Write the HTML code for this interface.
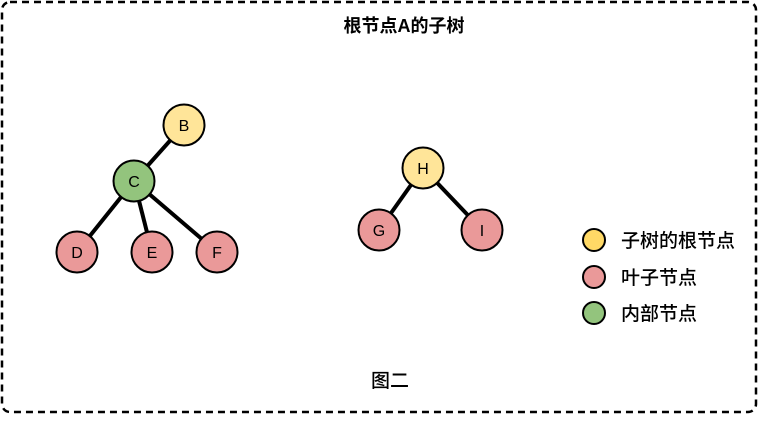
<!DOCTYPE html>
<html><head><meta charset="utf-8"><style>
body{margin:0;background:#fff;width:759px;height:416px;overflow:hidden}
text{font-family:"Liberation Sans","Noto Sans CJK SC",sans-serif}
</style></head><body>
<svg width="759" height="416" xmlns="http://www.w3.org/2000/svg">
<rect x="2" y="2" width="754" height="410" rx="8" fill="none" stroke="#000" stroke-width="2.5" stroke-dasharray="7,5"/>
<text x="404" y="32" font-size="18" font-weight="bold" text-anchor="middle">根节点A的子树</text>
<g stroke="#000" stroke-width="4">
<line x1="184" y1="125" x2="134" y2="181"/>
<line x1="134" y1="181" x2="77" y2="252"/>
<line x1="134" y1="181" x2="152" y2="252"/>
<line x1="134" y1="181" x2="217" y2="252"/>
<line x1="423" y1="168" x2="379" y2="230"/>
<line x1="423" y1="168" x2="482" y2="230"/>
</g>
<g stroke="#000" stroke-width="2">
<circle cx="184" cy="125" r="20.5" fill="#ffe599"/>
<circle cx="134" cy="181" r="20.5" fill="#93c47d"/>
<circle cx="77" cy="252" r="20.5" fill="#ea9999"/>
<circle cx="152" cy="252" r="20.5" fill="#ea9999"/>
<circle cx="217" cy="252" r="20.5" fill="#ea9999"/>
<circle cx="423" cy="168" r="20.5" fill="#ffe599"/>
<circle cx="379" cy="230" r="20.5" fill="#ea9999"/>
<circle cx="482" cy="230" r="20.5" fill="#ea9999"/>
<circle cx="594" cy="240" r="11" fill="#ffd966"/>
<circle cx="594" cy="277" r="11" fill="#ea9999"/>
<circle cx="594" cy="313" r="11" fill="#93c47d"/>
</g>
<g font-size="16" text-anchor="middle">
<text x="184" y="131">B</text><text x="134" y="187">C</text>
<text x="77" y="258">D</text><text x="152" y="258">E</text><text x="217" y="258">F</text>
<text x="423" y="174">H</text><text x="379" y="236">G</text><text x="482" y="236">I</text>
</g>
<g font-size="19" font-weight="500">
<text x="621" y="247">子树的根节点</text>
<text x="621" y="284">叶子节点</text>
<text x="621" y="320">内部节点</text>
<text x="371" y="387">图二</text>
</g>
</svg>
</body></html>
